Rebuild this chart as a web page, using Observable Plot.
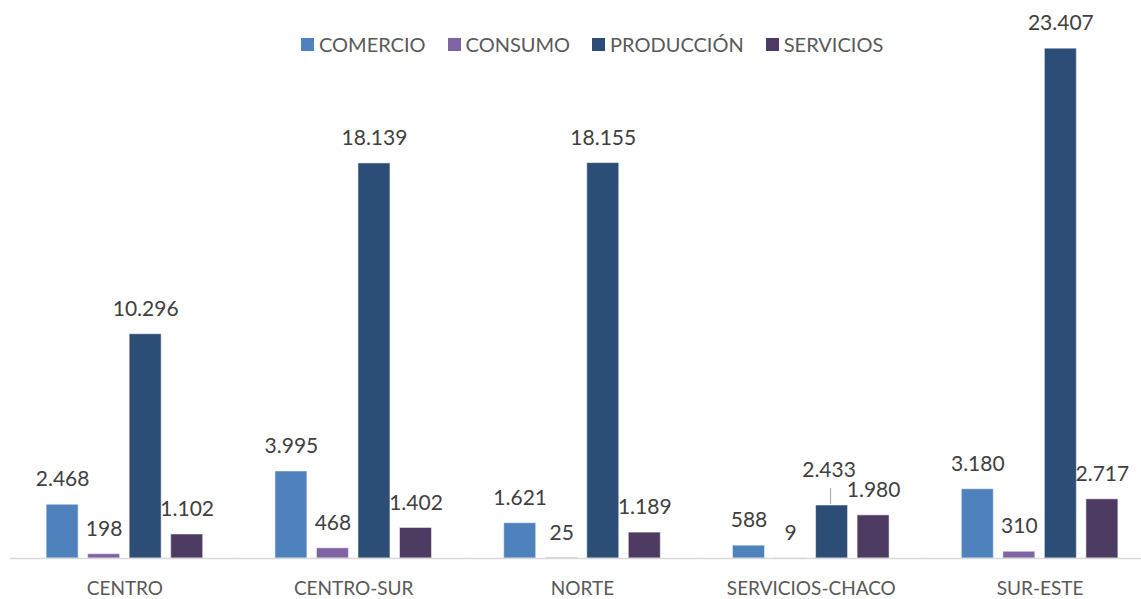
<!DOCTYPE html>
<html>
<head>
<meta charset="utf-8">
<script src="https://cdn.jsdelivr.net/npm/d3@7"></script>
<script src="https://cdn.jsdelivr.net/npm/@observablehq/plot@0.6"></script>
<style>
  html, body { margin: 0; padding: 0; background: #fff; }
  #wrap { position: relative; width: 1141px; height: 599px; overflow: hidden; font-family: Lato, "Open Sans", sans-serif; }
  #legend { position: absolute; top: 32px; left: 301px; display: flex; align-items: center; font-size: 20px; color: #595959; white-space: nowrap; }
  #legend .item { display: flex; align-items: center; margin-right: 22px; }
  #legend .sw { width: 13px; height: 13px; margin-right: 5px; }
</style>
</head>
<body>
<div id="wrap"><div id="legend"></div></div>
<script>
const regions = ["CENTRO", "CENTRO-SUR", "NORTE", "SERVICIOS-CHACO", "SUR-ESTE"];
const sectors = ["COMERCIO", "CONSUMO", "PRODUCCIÓN", "SERVICIOS"];
const comercio   = [2468, 3995, 1621, 588, 3180];
const consumo    = [198, 468, 25, 9, 310];
const produccion = [10296, 18139, 18155, 2433, 23407];
const servicios  = [1102, 1402, 1189, 1980, 2717];
const colors = ["#4F81BD", "#8064A2", "#2C4D75", "#4D3B62"];

const series = [comercio, consumo, produccion, servicios];
const rows = [];
regions.forEach((r, i) => sectors.forEach((s, j) => rows.push({region: r, sector: s, value: series[j][i]})));

const fmt = d3.formatLocale({decimal: ",", thousands: ".", grouping: [3], currency: ["", ""]}).format(",d");
const isLeader = d => d.region === "SERVICIOS-CHACO" && d.sector === "PRODUCCIÓN";

const chart = Plot.plot({
  width: 1141,
  height: 599,
  marginLeft: 10,
  marginRight: -13,
  marginTop: 13.5,
  marginBottom: 41,
  style: {fontFamily: "Lato, 'Open Sans', sans-serif", background: "transparent"},
  fx: {domain: regions, padding: 0, round: false, label: null, axis: null},
  x: {domain: sectors, paddingInner: 0.23, paddingOuter: 0.87, round: false, axis: null},
  y: {domain: [0, 25000], axis: null},
  color: {domain: sectors, range: colors},
  marks: [
    Plot.barY(rows, {fx: "region", x: "sector", y: "value", fill: "sector", stroke: "#ffffff", strokeOpacity: 0.5, strokeWidth: 1}),
    Plot.ruleY([0], {stroke: "#d9d9d9", strokeWidth: 1.5}),
    Plot.text(rows.filter(d => !isLeader(d)), {fx: "region", x: "sector", y: "value", text: d => fmt(d.value), dy: -25, fontSize: 21, fill: "#404040"}),
    Plot.text(rows.filter(isLeader), {fx: "region", x: "sector", y: "value", text: d => fmt(d.value), dy: -35, dx: -3, fontSize: 21, fill: "#404040"}),
    Plot.ruleX(rows.filter(isLeader), {fx: "region", x: "sector", y1: "value", y2: "value", insetTop: -16, dy: -1, dx: -1.5, stroke: "#a6a6a6", strokeWidth: 1}),
    Plot.axisFx({anchor: "bottom", tickSize: 0, tickPadding: 23, fontSize: 19, color: "#595959", label: null})
  ]
});

const wrap = document.getElementById("wrap");
wrap.insertBefore(chart, wrap.firstChild);
chart.style.position = "absolute";
chart.style.left = "0";
chart.style.top = "0";

const legend = document.getElementById("legend");
sectors.forEach((s, i) => {
  const item = document.createElement("div");
  item.className = "item";
  const sw = document.createElement("div");
  sw.className = "sw";
  sw.style.background = colors[i];
  const t = document.createElement("span");
  t.textContent = s;
  item.appendChild(sw);
  item.appendChild(t);
  legend.appendChild(item);
});
</script>
</body>
</html>
